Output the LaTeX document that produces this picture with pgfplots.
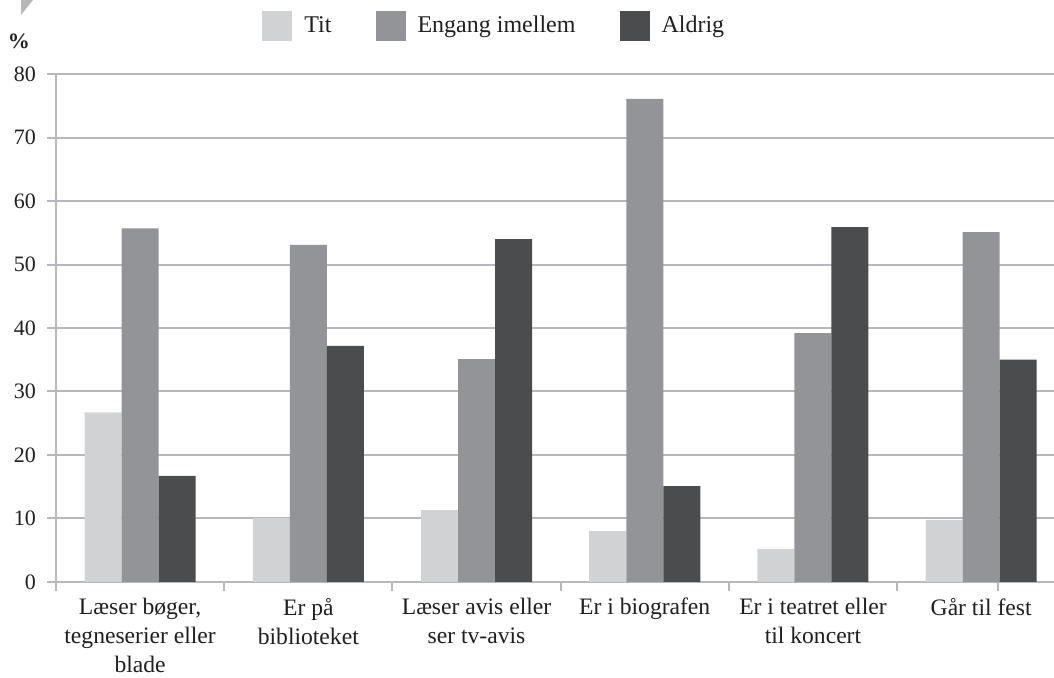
\documentclass[border=0pt]{standalone}
\usepackage{pgfplots}
\pgfplotsset{compat=1.18}
\usepackage{fontspec}
\setmainfont{Liberation Serif}
\definecolor{cTit}{HTML}{D1D2D4}
\definecolor{cEng}{HTML}{939497}
\definecolor{cAld}{HTML}{4B4C4E}
\definecolor{cGrid}{HTML}{B8B8BC}
\begin{document}
\begin{tikzpicture}
\begin{axis}[
  at={(28pt,48pt)}, anchor=south west,
  scale only axis, width=499pt, height=254pt,
  xmin=-0.5, xmax=5.433, ymin=0, ymax=80,
  ybar, bar width=0.22,
  axis x line*=bottom, axis y line*=left,
  axis line style={-, draw=cGrid, line width=1pt},
  ytick={0,10,...,80},
  ymajorgrids, grid style={draw=cGrid, line width=1pt},
  tick align=outside,
  major tick length=4.5pt, minor tick length=4.5pt,
  tick style={draw=cGrid, line width=1pt},
  xtick={0,...,5},
  major x tick style={draw=none},
  minor xtick={-0.5,0.5,1.5,2.5,3.5,4.5,5.1},
  xticklabels={{Læser bøger,\\tegneserier eller\\blade},{Er på\\biblioteket},{Læser avis eller\\ser tv-avis},{Er i biografen},{Er i teatret eller\\til koncert},{Går til fest}},
  xticklabel style={align=center, font=\fontsize{11.8}{14.5}\selectfont, text=black!88},
  yticklabel style={font=\fontsize{11}{12}\selectfont, text=black!88, xshift=-2pt},
  /pgf/number format/assume math mode=true,
  legend columns=3,
  legend image code/.code={\fill[#1,draw=none] (0pt,-7.5pt) rectangle (15pt,7.5pt);},
  legend style={at={(0.2064,1.0945)}, anchor=west, draw=none, fill=none,
    inner xsep=0pt, inner ysep=0pt,
    font=\fontsize{12}{14}\selectfont, text=black!88,
    /tikz/every odd column/.append style={column sep=4pt},
    /tikz/every even column/.append style={column sep=20pt},
    cells={anchor=west}},
  clip=false,
]
\addplot[fill=cTit, draw=none, bar shift=-0.22] coordinates {(0,26.7) (1,10.1) (2,11.3) (3,8.0) (4,5.2) (5,9.8)};
\addplot[fill=cEng, draw=none, bar shift=0] coordinates {(0,55.7) (1,53.1) (2,35.1) (3,76.1) (4,39.2) (5,55.1)};
\addplot[fill=cAld, draw=none, bar shift=0.22] coordinates {(0,16.7) (1,37.2) (2,54.0) (3,15.1) (4,55.9) (5,35.0)};
\addlegendentry{Tit\hspace{19pt}}
\addlegendentry{Engang imellem}
\addlegendentry{Aldrig}
\node[font=\bfseries\fontsize{11}{13}\selectfont, text=black!88] at (rel axis cs:0,1) [xshift=-18.5pt, yshift=16.5pt] {\%};
\end{axis}
\pgfresetboundingbox
\useasboundingbox (0,0) rectangle (527pt,339pt);
\fill[cGrid] (10.5pt,339pt) -- (16.5pt,339pt) -- (10.5pt,331.5pt) -- cycle;
\end{tikzpicture}
\end{document}
